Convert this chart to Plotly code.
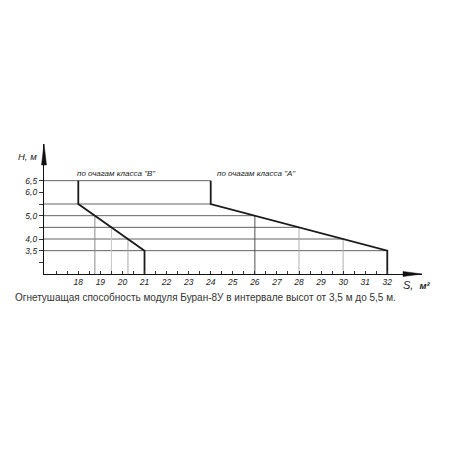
import plotly.graph_objects as go

# ---- data ----
b_S = [18, 18, 21, 21]
b_H = [6.5, 5.5, 3.5, 2.5]
a_S = [24, 24, 32, 32]
a_H = [6.5, 5.5, 3.5, 2.5]

grid_H = [6.5, 5.5, 5.0, 4.5, 4.0, 3.5]
grid_end_S = [24, 24, 26, 28, 30, 32]

drop_S = [18.75, 19.5, 20.25, 26, 28, 30]
drop_H = [5.0, 4.5, 4.0, 5.0, 4.5, 4.0]
drop_col = ["#8a8a8a", "#c4c4c4", "#a8a8a8", "#505050", "#b0b0b0", "#b0b0b0"]

x_tickvals = [17 + 0.5 * i for i in range(31)]
x_ticktext = [str(int(v)) if (v == int(v) and v >= 18) else "" for v in x_tickvals]
y_tickvals = [3.0, 3.5, 4.0, 4.5, 5.0, 5.5, 6.0, 6.5]
y_ticktext = ["", "3,5", "4,0", "", "5,0", "", "6,0", "6,5"]

caption = "Огнетушащая способность модуля Буран-8У в интервале высот от 3,5 м до 5,5 м."
label_B = "по очагам класса \"В\""
label_A = "по очагам класса \"А\""

# ---- layout geometry (pixels, page coords; page body has 8px margin) ----
OFF = 8
W = Hh = 450 - OFF
L, R, T, B = 44 - OFF, 28, 144 - OFF, 176
px_x18, px_per_S = 78.3 - OFF, 22.07
px_y65, px_per_H = 180.7 - OFF, 23.33
plot_w = W - L - R
plot_h = Hh - T - B
x0 = 18 - (px_x18 - L) / px_per_S
x1 = x0 + plot_w / px_per_S
y0 = 2.5
y1 = y0 + plot_h / px_per_H
ybot = y0

FONT = "Arial, Liberation Sans, sans-serif"

fig = go.Figure()

for h, e in zip(grid_H, grid_end_S):
    fig.add_trace(go.Scatter(x=[x0, e], y=[h, h], mode="lines",
                             line=dict(color="#626262", width=1),
                             hoverinfo="skip", showlegend=False))
for s, h, c in zip(drop_S, drop_H, drop_col):
    fig.add_trace(go.Scatter(x=[s, s], y=[ybot, h], mode="lines",
                             line=dict(color=c, width=1),
                             hoverinfo="skip", showlegend=False))
for xs, ys in [(b_S, b_H), (a_S, a_H)]:
    fig.add_trace(go.Scatter(x=xs, y=ys, mode="lines",
                             line=dict(color="#1a1a1a", width=1.8),
                             hoverinfo="skip", showlegend=False))

def px(xp):
    return (xp - OFF - L) / plot_w
def py(yp):
    return (Hh - B - (yp - OFF)) / plot_h

fig.add_shape(type="path", xref="paper", yref="paper",
              path=f"M {px(403)} {py(271.5)} L {px(422)} {py(274)} L {px(403)} {py(276.5)} Z",
              fillcolor="#111", line=dict(color="#111", width=0.5))
fig.add_shape(type="path", xref="paper", yref="paper",
              path=f"M {px(41.5)} {py(165)} L {px(44)} {py(144)} L {px(46.5)} {py(165)} Z",
              fillcolor="#111", line=dict(color="#111", width=0.5))

fig.add_annotation(x=px(75), y=py(173), xref="paper", yref="paper", text=label_B,
                   showarrow=False, xanchor="left", yanchor="middle",
                   font=dict(family=FONT, size=8, color="#222", style="italic"))
fig.add_annotation(x=px(215), y=py(173), xref="paper", yref="paper", text=label_A,
                   showarrow=False, xanchor="left", yanchor="middle",
                   font=dict(family=FONT, size=8, color="#222", style="italic"))
fig.add_annotation(x=px(39), y=py(156), xref="paper", yref="paper", text="H, м",
                   showarrow=False, xanchor="right", yanchor="middle",
                   font=dict(family=FONT, size=9.5, color="#222", style="italic"))
fig.add_annotation(x=px(401), y=py(285), xref="paper", yref="paper",
                   text="S,  <b><span style='font-size:9.5px'>м²</span></b>",
                   showarrow=False, xanchor="left", yanchor="middle",
                   font=dict(family=FONT, size=11, color="#222", style="italic"))
fig.add_annotation(x=px(13), y=py(297), xref="paper", yref="paper", text=caption,
                   showarrow=False, xanchor="left", yanchor="middle",
                   font=dict(family=FONT, size=10, color="#333"))

fig.update_xaxes(range=[x0, x1], showgrid=False, zeroline=False,
                 showline=True, linecolor="#111", linewidth=1.2,
                 tickmode="array", tickvals=x_tickvals, ticktext=x_ticktext,
                 ticks="inside", ticklen=3, tickcolor="#333", tickwidth=1,
                 tickfont=dict(family=FONT, size=8.5, color="#222", style="italic"))
fig.update_yaxes(range=[y0, y1], showgrid=False, zeroline=False,
                 showline=True, linecolor="#111", linewidth=1.2,
                 tickmode="array", tickvals=y_tickvals, ticktext=y_ticktext,
                 ticks="outside", ticklen=4, tickcolor="#333", tickwidth=1,
                 tickfont=dict(family=FONT, size=8.5, color="#222", style="italic"))

fig.update_layout(width=W, height=Hh, margin=dict(l=L, r=R, t=T, b=B, pad=0),
                  plot_bgcolor="white", paper_bgcolor="white", autosize=False)

fig.write_html("out.html")
